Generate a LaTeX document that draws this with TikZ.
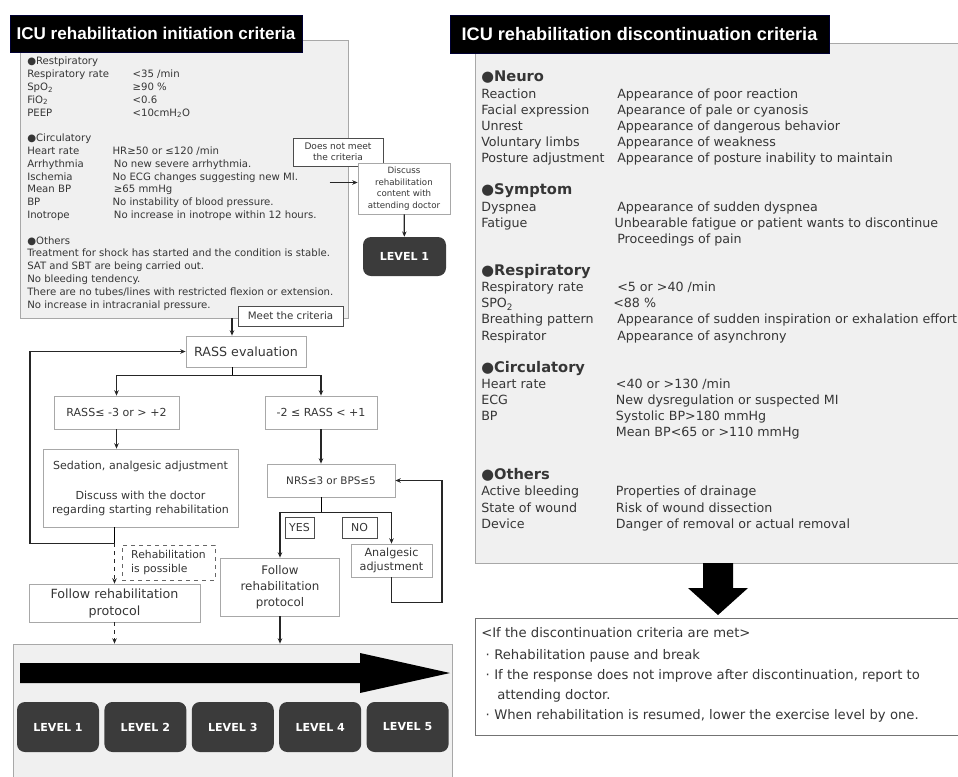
\documentclass[tikz,border=0pt]{standalone}
\usepackage{fontspec}
\setmainfont{DejaVu Sans}
\newfontfamily\titlefont{Liberation Sans}
\usetikzlibrary{arrows.meta,calc}

\definecolor{panelgray}{HTML}{F0F0F0}
\definecolor{framegray}{HTML}{A8A8A8}
\definecolor{txt}{HTML}{363636}
\definecolor{lvl}{HTML}{3B3B3B}

\newcommand{\fsz}[2]{\fontsize{#1}{#2}\selectfont}
\newcommand{\critrow}[3][79pt]{\makebox[#1][l]{#2}#3}
\newcommand{\hdr}[1]{{\bfseries\fsz{11}{12.1}#1}}
\newcommand{\bul}{\makebox[9.75pt][c]{·}}

\tikzset{
  panel/.style={draw=framegray, fill=panelgray, line width=0.6pt, inner sep=0pt},
  ttlbox/.style={draw=black!80!blue, fill=black, text=white, inner sep=0pt},
  flowbox/.style={draw=framegray, fill=white, text=txt, align=center, inner sep=0pt, line width=0.6pt},
  markbox/.style={flowbox, draw=black!70},
  lvlbox/.style={fill=lvl, text=white, rounded corners=6pt, minimum width=61.5pt,
    minimum height=37.5pt, font=\bfseries\fsz{8.3}{10}},
  link/.style={-{Stealth[length=4pt,width=3.4pt]}, line width=0.9pt, black!85},
}

\begin{document}
\begin{tikzpicture}[x=0.75pt, y=-0.75pt]
\useasboundingbox (0,0) rectangle (958,776);

% initiation criteria
\node[panel, minimum width=246pt, minimum height=208.5pt] (crit) at (184,179) {};
\node[ttlbox, minimum width=219pt, minimum height=27.75pt, font=\titlefont\bfseries\fsz{12.8}{14}]
  (ttlinit) at (156,33.5) {ICU rehabilitation initiation criteria};
\node[anchor=north west, align=left, text=txt, inner sep=0pt, font=\fsz{7.6}{9.6}] (crittext) at (27,57)
  {●Restpiratory\\
   \critrow{Respiratory rate}{<35 /min}\\
   \critrow{SpO\textsubscript{2}}{≥90 \%}\\
   \critrow{FiO\textsubscript{2}}{<0.6}\\
   \critrow{PEEP}{<10cmH\textsubscript{2}O}\\
   ~\\
   ●Circulatory\\
   \critrow[64pt]{Heart rate}{HR≥50 or ≤120 /min}\\
   \critrow[65pt]{Arrhythmia}{No new severe arrhythmia.}\\
   \critrow[64pt]{Ischemia}{No ECG changes suggesting new MI.}\\
   \critrow[65pt]{Mean BP}{≥65 mmHg}\\
   \critrow[64pt]{BP}{No instability of blood pressure.}\\
   \critrow[65pt]{Inotrope}{No increase in inotrope within 12 hours.}\\
   ~\\
   ●Others\\
   Treatment for shock has started and the condition is stable.\\
   SAT and SBT are being carried out.\\
   No bleeding tendency.\\
   There are no tubes/lines with restricted flexion or extension.\\
   No increase in intracranial pressure.};

\node[markbox, minimum width=67.5pt, minimum height=21pt, font=\fsz{6.8}{8.2}] (notmeet) at (338,152)
  {Does not meet\\the criteria};
\node[flowbox, minimum width=69pt, minimum height=38.25pt, font=\fsz{6.5}{8.75}] (discuss) at (404,188.5)
  {Discuss\\rehabilitation\\content with\\attending doctor};
\node[lvlbox, minimum width=62.25pt, minimum height=29.25pt] (lvtop) at (404.5,256.5) {LEVEL 1};
\draw[link] ($(discuss.west)+(-28,-6)$) -- ($(discuss.west)+(0,-6)$);
\draw[link] (discuss) -- (lvtop);

% flow
\node[markbox, minimum width=78.75pt, minimum height=15pt, font=\fsz{7.7}{9}] (meet) at (290.5,316) {Meet the criteria};
\coordinate (trunk) at (232,0);
\node[flowbox, minimum width=90pt, minimum height=23.25pt, font=\fsz{9.5}{11}] (rass) at (246,351.5) {RASS evaluation};
\draw[link] (crit.south -| trunk) -- (rass.north -| trunk);

\node[flowbox, minimum width=93.75pt, minimum height=24.75pt, font=\fsz{8.3}{10}] (rasslow) at (116.5,412.5) {RASS≤ -3 or > +2};
\node[flowbox, minimum width=84pt, minimum height=24.75pt, font=\fsz{8.3}{10}] (rassmid) at (321,412.5) {-2 ≤ RASS < +1};
\draw (rass.south -| trunk) -- ++(0,8) coordinate (split);
\draw[link] (split) -| (rasslow.north);
\draw[link] (split) -| (rassmid.north);

\node[flowbox, minimum width=146.25pt, minimum height=58.5pt, font=\fsz{8.3}{10.5}] (sedate) at (140.5,488)
  {Sedation, analgesic adjustment\\[12pt]Discuss with the doctor\\regarding starting rehabilitation};
\draw[link] (rasslow) -- (rasslow |- sedate.north);

\node[flowbox, minimum width=128.25pt, minimum height=28.5pt, font=\fsz{9.5}{12.75}] (followl) at (114.5,603)
  {Follow rehabilitation\\protocol};
\node[flowbox, dashed, draw=black!60, align=left, minimum width=69.75pt, minimum height=26.25pt,
  font=\fsz{8.1}{10}] (possible) at (168.5,562.5) {Rehabilitation\\is possible};
\coordinate (back) at (30,0);
\draw (sedate.south -| followl) -- ++(0,16) coordinate (join);
\draw[link] (join) -- (join -| back) |- (rass.west);
\draw[link, dashed] (join) -- (followl);

\node[flowbox, minimum width=96pt, minimum height=24.75pt, font=\fsz{7.8}{9.5}] (pain) at (331,480.5) {NRS≤3 or BPS≤5};
\draw[link] (rassmid) -- (rassmid |- pain.north);
\draw (pain.south -| rassmid) -- ++(0,15) coordinate (fork);
\node[flowbox, minimum width=89.25pt, minimum height=43.5pt, font=\fsz{8.9}{12}] (followm) at (280,587)
  {Follow\\rehabilitation\\protocol};
\node[flowbox, minimum width=60.75pt, minimum height=24.75pt, font=\fsz{8.4}{10}] (analg) at (391.5,560.5)
  {Analgesic\\adjustment};
\draw[link] (fork) -| (followm.north);
\draw[link] (fork) -| (analg.north);
\node[markbox, minimum width=21.75pt, minimum height=15.75pt, font=\fsz{8.2}{10}] (yes) at (299.5,527.5) {YES};
\node[markbox, minimum width=26.25pt, minimum height=15.75pt, font=\fsz{8.2}{10}] (no) at (359.5,527.5) {NO};
\coordinate (loop) at (442,0);
\draw[link] (analg.south) -- ++(0,25) -| (loop |- pain.east) -- (pain.east);

% levels
\node[panel, minimum width=329.25pt, minimum height=109.5pt] (levels) at (232.5,717) {};
\draw[link, dashed] (followl) -- (followl |- levels.north);
\draw[link] (followm) -- (followm |- levels.north);
\fill[black] (20,663) -- (360,663) -- (360,653) -- (450,673) -- (360,693) -- (360,683) -- (20,683) -- cycle;
\foreach \i in {1,...,5}
  \node[lvlbox] (lv\i) at ({58+87.4*(\i-1)},727) {LEVEL \i};

% discontinuation criteria
\node[panel, minimum width=375pt, minimum height=390pt] (disc) at (725,303) {};
\node[ttlbox, minimum width=284.25pt, minimum height=28.5pt, font=\titlefont\bfseries\fsz{13.6}{15}]
  (ttldisc) at (639.5,34) {ICU rehabilitation discontinuation criteria};
\node[anchor=north west, align=left, text=txt, inner sep=0pt, font=\fsz{9.5}{12.1}] (disctext) at (481,71)
  {\hdr{●Neuro}\\
   \critrow[102pt]{Reaction}{Appearance of poor reaction}\\
   \critrow[102pt]{Facial expression}{Apearance of pale or cyanosis}\\
   \critrow[102pt]{Unrest}{Appearance of dangerous behavior}\\
   \critrow[102pt]{Voluntary limbs}{Appearance of weakness}\\
   \critrow[102pt]{Posture adjustment}{Appearance of posture inability to maintain}\\
   ~\\
   \hdr{●Symptom}\\
   \critrow[102pt]{Dyspnea}{Appearance of sudden dyspnea}\\
   \critrow[100pt]{Fatigue}{Unbearable fatigue or patient wants to discontinue}\\
   \critrow[102pt]{}{Proceedings of pain}\\
   ~\\
   \hdr{●Respiratory}\\
   \critrow[102pt]{Respiratory rate}{<5 or >40 /min}\\
   \critrow[99pt]{SPO\textsubscript{2}}{<88 \%}\\
   \critrow[102pt]{Breathing pattern}{Appearance of sudden inspiration or exhalation effort}\\
   \critrow[102pt]{Respirator}{Appearance of asynchrony}\\
   ~\\
   \hdr{●Circulatory}\\
   \critrow[101pt]{Heart rate}{<40 or >130 /min}\\
   \critrow[101pt]{ECG}{New dysregulation or suspected MI}\\
   \critrow[101pt]{BP}{Systolic BP>180 mmHg}\\
   \critrow[101pt]{}{Mean BP<65 or >110 mmHg}\\[8pt]
   ~\\
   \hdr{●Others}\\
   \critrow[101pt]{Active bleeding}{Properties of drainage}\\
   \critrow[101pt]{State of wound}{Risk of wound dissection}\\
   \critrow[101pt]{Device}{Danger of removal or actual removal}};

\fill[black] (703,563) -- (733,563) -- (733,588) -- (748,588) -- (718,615) -- (688,588) -- (703,588) -- cycle;
\node[flowbox, draw=black!55, minimum width=375pt, minimum height=87.75pt] (after) at (725,676.5) {};
\node[anchor=north west, align=left, text=txt, inner sep=0pt, font=\fsz{9.9}{15}] (aftertext) at (481,627)
  {<If the discontinuation criteria are met>\\[2pt]
   \bul Rehabilitation pause and break\\
   \bul If the response does not improve after discontinuation, report to\\
   \hspace*{12pt}attending doctor.\\
   \bul When rehabilitation is resumed, lower the exercise level by one.};
\end{tikzpicture}
\end{document}
